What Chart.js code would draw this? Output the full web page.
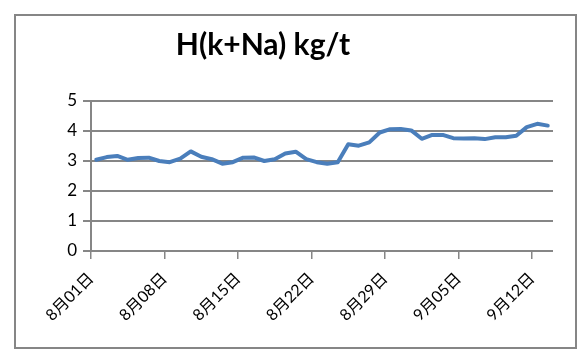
<!DOCTYPE html>
<html>
<head>
<meta charset="utf-8">
<script src="https://cdn.jsdelivr.net/npm/chart.js@4"></script>
<style>
  html, body { margin: 0; padding: 0; background: #fff; }
</style>
</head>
<body>
<canvas id="hchart" width="587" height="358"></canvas>
<script>
var chartTitle = "H(k+Na) kg/t";

// one entry per day, 8/01 .. 9/13
var days = [
  "8月01日","8月02日","8月03日","8月04日","8月05日","8月06日","8月07日",
  "8月08日","8月09日","8月10日","8月11日","8月12日","8月13日","8月14日",
  "8月15日","8月16日","8月17日","8月18日","8月19日","8月20日","8月21日",
  "8月22日","8月23日","8月24日","8月25日","8月26日","8月27日","8月28日",
  "8月29日","8月30日","8月31日","9月01日","9月02日","9月03日","9月04日",
  "9月05日","9月06日","9月07日","9月08日","9月09日","9月10日","9月11日",
  "9月12日","9月13日"
];
var values = [
  3.04, 3.13, 3.17, 3.04, 3.10, 3.11, 3.00,
  2.96, 3.08, 3.32, 3.14, 3.06, 2.91, 2.96,
  3.11, 3.12, 3.00, 3.06, 3.25, 3.31, 3.06,
  2.96, 2.91, 2.96, 3.56, 3.51, 3.62, 3.95,
  4.06, 4.07, 4.02, 3.74, 3.87, 3.87, 3.76,
  3.75, 3.76, 3.73, 3.79, 3.79, 3.84, 4.13,
  4.24, 4.18
];
var tickLabels = ["8月01日","8月08日","8月15日","8月22日","8月29日","9月05日","9月12日"];
var yTicks = [0, 1, 2, 3, 4, 5];

Chart.defaults.font.family = "Lato, 'Noto Sans CJK SC', sans-serif";
Chart.defaults.color = "#000";

var gray = "#868686";

// outer frame and title, Excel style
var frame = {
  id: "frame",
  beforeDraw: function(chart) {
    var c = chart.ctx;
    c.save();
    c.fillStyle = "#fff";
    c.fillRect(0, 0, chart.width, chart.height);
    c.strokeStyle = gray;
    c.lineWidth = 2;
    c.strokeRect(15, 15, 561, 333);
    c.restore();
  },
  afterDraw: function(chart) {
    var c = chart.ctx;
    c.save();
    c.fillStyle = "#000";
    c.font = "bold 30px Lato, sans-serif";
    c.textAlign = "center";
    c.textBaseline = "alphabetic";
    c.fillText(chartTitle, 263, 55);
    c.restore();
  }
};

var pts = values.map(function(v, i) { return { x: i + 0.5, y: v }; });

new Chart(document.getElementById("hchart"), {
  type: "line",
  data: {
    datasets: [{
      data: pts,
      borderColor: "#4a7ebb",
      borderWidth: 4,
      pointRadius: 0,
      tension: 0,
      borderCapStyle: "round",
      borderJoinStyle: "round"
    }]
  },
  options: {
    responsive: false,
    animation: false,
    layout: { padding: { top: 101, right: 34, left: 20, bottom: 0 } },
    plugins: { legend: { display: false }, tooltip: { enabled: false } },
    scales: {
      x: {
        type: "linear",
        min: 0,
        max: days.length,
        afterFit: function(s) { s.height = 107; },
        grid: { drawOnChartArea: false, color: gray, tickLength: 8, lineWidth: 1.5 },
        border: { display: false },
        ticks: {
          stepSize: 7,
          includeBounds: false,
          autoSkip: false,
          maxRotation: 45,
          minRotation: 45,
          padding: 10,
          font: { size: 16 },
          callback: function(v) { return tickLabels[v / 7]; }
        }
      },
      y: {
        min: yTicks[0],
        max: yTicks[yTicks.length - 1],
        afterFit: function(s) { s.width = 71; },
        grid: { color: gray, tickLength: 8, lineWidth: 2 },
        border: { color: gray, width: 2 },
        ticks: { stepSize: 1, padding: 6, font: { size: 17 } }
      }
    }
  },
  plugins: [frame]
});
</script>
</body>
</html>
